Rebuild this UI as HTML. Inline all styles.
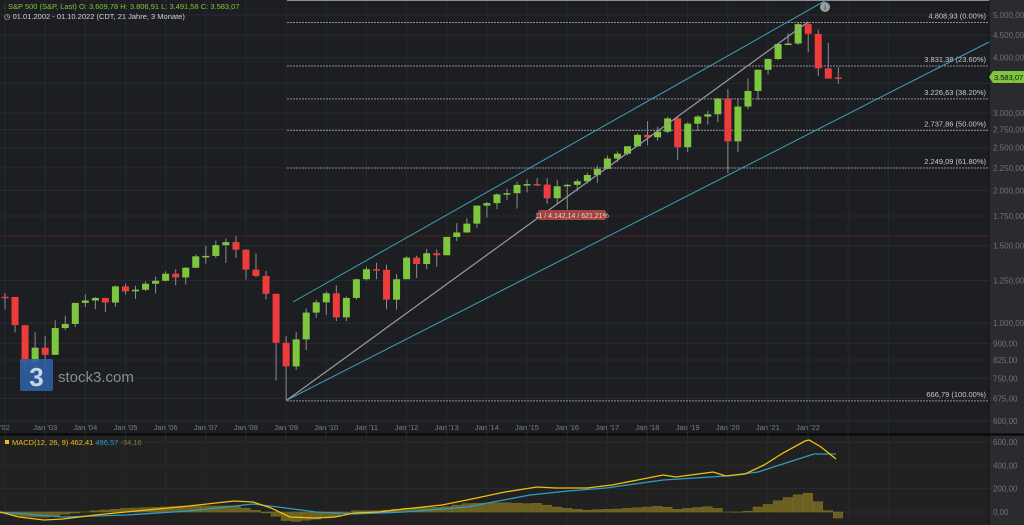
<!DOCTYPE html>
<html><head><meta charset="utf-8"><style>
html,body{margin:0;padding:0;background:#1c1e22;width:1024px;height:525px;overflow:hidden;font-family:"Liberation Sans",sans-serif}
svg text{font-family:"Liberation Sans",sans-serif}
</style></head><body>
<svg id="s" width="1024" height="525" xmlns="http://www.w3.org/2000/svg"></svg>
<script>
var s=document.getElementById('s');var h='';
function Y(p){return 15+(Math.log(5000)-Math.log(p))*191.5;}
h+='<rect x="0" y="0" width="1024" height="525" fill="#1c1e22"/>';
h+='<rect x="0" y="435" width="989" height="90" fill="#212121"/>';
h+='<rect x="989" y="0" width="35" height="525" fill="#2a2b2f"/>';
h+='<line x1="0" y1="434.5" x2="1024" y2="434.5" stroke="#050505" stroke-width="2"/>';
h+='<line x1="989" y1="0" x2="989" y2="525" stroke="#111" stroke-width="1"/>';
var ticks=[5000,4500,4000,3500,3000,2750,2500,2250,2000,1750,1500,1250,1000,900,825,750,675,600];
ticks.forEach(function(t){var y=Y(t);h+='<line x1="0" y1="'+y+'" x2="989" y2="'+y+'" stroke="#272a2f"/>';
if(t!=3500)h+='<text x="993" y="'+(y+3)+'" font-size="8" fill="#6f7278">'+t.toLocaleString('de-DE',{minimumFractionDigits:2})+'</text>';});
[600,400,200,0].forEach(function(v){var y=512-v*0.1167;h+='<line x1="0" y1="'+y+'" x2="989" y2="'+y+'" stroke="#2c2c2c"/><text x="993" y="'+(y+3)+'" font-size="8" fill="#6f7278">'+v.toLocaleString('de-DE',{minimumFractionDigits:2})+'</text>';});
for(var yr=2002;yr<=2024;yr++){var x=5+(yr-2002)*40.15;h+='<line x1="'+x+'" y1="0" x2="'+x+'" y2="525" stroke="#25282d"/>';
if(yr<=2022)h+='<text x="'+x+'" y="430" font-size="7.5" fill="#7a7d83" text-anchor="middle">'+(yr==2002?"'02":"Jan '"+String(yr).slice(2))+'</text>';}
h+='<line x1="0" y1="236" x2="989" y2="236" stroke="#5a1f24"/>';
[[4808.93,'4.808,93 (0.00%)'],[3831.38,'3.831,38 (23.60%)'],[3226.63,'3.226,63 (38.20%)'],[2737.86,'2.737,86 (50.00%)'],[2249.09,'2.249,09 (61.80%)'],[666.79,'666,79 (100.00%)']].forEach(function(f){var y=Y(f[0]);
h+='<line x1="287" y1="'+y+'" x2="989" y2="'+y+'" stroke="#8a8d92" stroke-dasharray="2,1"/><text x="986" y="'+(y-4)+'" font-size="7.5" fill="#c8cacd" text-anchor="end">'+f[1]+'</text>';});
h+='<line x1="287" y1="0.5" x2="989" y2="0.5" stroke="#8a8d92"/>';
var d=[[1148,1172,1075,1147],[1147,1147,953,990],[990,990,776,815],[815,954,768,880],
[880,935,789,848],[848,1015,847,975],[975,1040,965,996],[996,1112,980,1112],
[1112,1163,1087,1126],[1126,1146,1076,1141],[1141,1141,1060,1114],[1114,1217,1090,1212],
[1212,1229,1163,1181],[1181,1217,1136,1191],[1191,1245,1183,1229],[1229,1275,1168,1248],
[1248,1311,1245,1295],[1295,1326,1219,1270],[1270,1340,1224,1336],[1336,1431,1333,1418],
[1418,1498,1364,1421],[1421,1540,1405,1503],[1503,1556,1370,1527],[1527,1576,1406,1468],
[1468,1471,1256,1323],[1323,1440,1272,1280],[1280,1313,1133,1166],[1166,1166,741,903],
[903,935,667,798],[798,956,783,919],[919,1080,869,1057],[1057,1130,1029,1115],
[1115,1180,1045,1169],[1169,1219,1011,1031],[1031,1150,1010,1141],[1141,1262,1131,1258],
[1258,1344,1249,1326],[1326,1371,1258,1321],[1321,1357,1075,1131],[1131,1292,1074,1258],
[1258,1419,1258,1408],[1408,1422,1267,1362],[1362,1475,1325,1441],[1441,1470,1343,1426],
[1426,1570,1426,1569],[1569,1687,1536,1606],[1606,1729,1604,1682],[1682,1849,1646,1848],
[1848,1883,1737,1872],[1872,1968,1814,1960],[1960,2019,1904,1972],[1972,2093,1820,2059],
[2059,2119,1980,2068],[2068,2134,2048,2063],[2063,2132,1867,1920],[1920,2116,1871,2044],
[2044,2072,1810,2060],[2060,2121,1991,2099],[2099,2193,2074,2168],[2168,2277,2084,2239],
[2239,2401,2233,2363],[2363,2453,2322,2423],[2423,2519,2405,2519],[2519,2694,2520,2674],
[2674,2873,2533,2641],[2641,2791,2594,2718],[2718,2940,2698,2914],[2914,2940,2347,2507],
[2507,2860,2444,2834],[2834,2964,2728,2942],[2942,3028,2822,2977],[2977,3247,2856,3231],
[3231,3394,2192,2585],[2585,3233,2447,3100],[3100,3588,3058,3363],[3363,3760,3209,3756],
[3756,3983,3662,3973],[3973,4302,3955,4298],[4298,4546,4279,4308],[4308,4809,4279,4766],
[4766,4819,4115,4530],[4530,4637,3637,3785],[3785,4325,3637,3586],[3609,3807,3492,3583]];
d.forEach(function(c,i){var x=5+i*10.04;var up=c[3]>=c[0];var col=up?'#7ec63e':'#ee3b3b';
var t=Y(Math.max(c[0],c[3])),b=Y(Math.min(c[0],c[3]));if(b-t<1.5)b=t+1.5;
h+='<line x1="'+x+'" y1="'+Y(c[1])+'" x2="'+x+'" y2="'+Y(c[2])+'" stroke="#8a8d92" stroke-width="1"/>';
h+='<rect x="'+(x-3.5)+'" y="'+t+'" width="7" height="'+(b-t)+'" fill="'+col+'"/>';});
h+='<line x1="293" y1="302" x2="837" y2="-6" stroke="#3aa3b8" stroke-width="1"/>';
h+='<line x1="287" y1="400" x2="989" y2="42" stroke="#3aa3b8" stroke-width="1"/>';
h+='<line x1="287" y1="400" x2="808" y2="22" stroke="#9a9ca0" stroke-width="1.2"/>';
h+='<rect x="538" y="210" width="68" height="10" rx="2" fill="#a0453f"/><text x="572" y="218" font-size="7" fill="#f0d0cc" text-anchor="middle">11 / 4.142,14 / 621,21%</text>';
h+='<circle cx="825" cy="7" r="5" fill="#9a9ca0"/><text x="825" y="10" font-size="7" fill="#333" text-anchor="middle">i</text>';
h+='<path d="M989 77 L993 71 L1024 71 L1024 83 L993 83 Z" fill="#7ec63e"/><text x="994" y="80" font-size="7.5" fill="#111">3.583,07</text>';
h+='<rect x="20" y="359" width="33" height="32" rx="2" fill="#2f5fa3" opacity="0.9"/><text x="36.5" y="386" font-size="26" font-weight="bold" fill="#c9d6e8" text-anchor="middle">3</text>';
h+='<text x="58" y="382" font-size="15" fill="#8a8d92">stock3.com</text>';
h+='<text x="4" y="9" font-size="7.5" fill="#7ec63e">⫶ S&amp;P 500 (S&amp;P, Last)  O: 3.609,78  H: 3.806,91  L: 3.491,58  C: 3.583,07</text>';
h+='<text x="4" y="19" font-size="7.5" fill="#d0d2d5">◷ 01.01.2002 - 01.10.2022   (CDT, 21 Jahre, 3 Monate)</text>';
var yl=[[0,512],[19,517],[44,520],[63,519],[95,515],[126,512],[158,509],[189,506],[234,501],[253,502],[271,508],[290,517],[316,518],[335,517],[354,513],[379,512],[404,509],[442,505],[467,500],[505,492],[537,487],[556,488],[587,488],[612,485],[663,475],[676,477],[713,472],[726,476],[745,474],[764,465],[783,453],[805,441],[809,440],[821,447],[836,459]];
var bl=[[0,512],[63,517],[126,515],[189,511],[253,504],[278,507],[316,512],[354,514],[404,512],[467,507],[530,495],[568,491],[606,488],[663,480],[726,476],[758,472],[789,462],[814,454],[836,454]];
function it(a,x){for(var i=1;i<a.length;i++)if(x<=a[i][0]){var t=(x-a[i-1][0])/(a[i][0]-a[i-1][0]);return a[i-1][1]+t*(a[i][1]-a[i-1][1]);}return a[a.length-1][1];}
for(var i=0;i<84;i++){var x=5+i*10.04;var df=(it(bl,x)-it(yl,x))*1.2;var y0=512;
h+='<rect x="'+(x-5)+'" y="'+(df>0?y0-df:y0)+'" width="9.5" height="'+Math.abs(df)+'" fill="#6b5f22" stroke="#7d7029" stroke-width="0.5"/>';}
h+='<polyline points="'+bl.map(function(p){return p.join(',')}).join(' ')+'" fill="none" stroke="#2f9cc0" stroke-width="1.3"/>';
h+='<polyline points="'+yl.map(function(p){return p.join(',')}).join(' ')+'" fill="none" stroke="#f0bf12" stroke-width="1.3"/>';
h+='<rect x="5" y="440" width="4" height="4" fill="#f0bf12"/><text x="12" y="445" font-size="7.5" fill="#f0bf12">MACD(12, 26, 9)  462,41 <tspan fill="#2f9cc0">496,57</tspan> <tspan fill="#8a7d35">-34,16</tspan></text>';
s.innerHTML=h;
</script>
</body></html>
